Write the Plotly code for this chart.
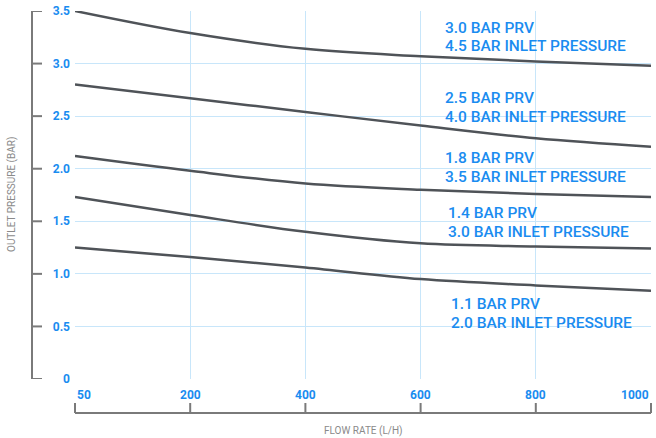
import plotly.graph_objects as go

flow_rates = ["50", "200", "400", "600", "800", "1000"]

prv_30 = [3.50, 3.29, 3.14, 3.07, 3.02, 2.98]
prv_25 = [2.80, 2.67, 2.54, 2.41, 2.29, 2.21]
prv_18 = [2.12, 1.98, 1.86, 1.80, 1.76, 1.73]
prv_14 = [1.73, 1.56, 1.40, 1.29, 1.26, 1.24]
prv_11 = [1.25, 1.16, 1.06, 0.95, 0.89, 0.84]

series = [prv_30, prv_25, prv_18, prv_14, prv_11]
prv_labels = ["3.0 BAR PRV", "2.5 BAR PRV", "1.8 BAR PRV", "1.4 BAR PRV", "1.1 BAR PRV"]
inlet_labels = ["4.5 BAR INLET PRESSURE", "4.0 BAR INLET PRESSURE", "3.5 BAR INLET PRESSURE",
                "3.0 BAR INLET PRESSURE", "2.0 BAR INLET PRESSURE"]
# label anchor positions (value axis for line 1 and line 2)
label_y1 = [3.34, 2.67, 2.10, 1.58, 0.71]
label_y2 = [3.17, 2.49, 1.92, 1.40, 0.53]
label_x = [443, 443, 443, 446, 449]

y_ticks = [0, 0.5, 1.0, 1.5, 2.0, 2.5, 3.0, 3.5]
y_ticktext = ["0", "0.5", "1.0", "1.5", "2.0", "2.5", "3.0", "3.5"]

BLUE = "#1a8cf0"
GRID = "#c8e6fa"
SPINE = "#7a7a7a"
LINE = "#4f5358"
PAPER_W = 651.0
PAPER_H = 407.0

X_DOM = [75 / PAPER_W, 1]
Y_DOM = [(418 - 379) / PAPER_H, 1]

fig = go.Figure()
for s, name in zip(series, prv_labels):
    fig.add_trace(go.Scatter(
        x=flow_rates, y=s, mode="lines", name=name,
        line=dict(color=LINE, width=2.5, shape="spline", smoothing=1),
        hoverinfo="x+y",
    ))

label_font = dict(family="Roboto", size=15.5, color=BLUE, weight=500)
for l1, l2, lx, y1, y2 in zip(prv_labels, inlet_labels, label_x, label_y1, label_y2):
    for txt, yy in ((l1, y1), (l2, y2)):
        fig.add_annotation(
            text=txt, xref="paper", yref="y", x=lx / PAPER_W, y=yy,
            xanchor="left", yanchor="middle", align="left", showarrow=False,
            font=label_font,
        )

# x tick labels (first left-aligned, last right-aligned as in the original)
anchors = ["left"] + ["center"] * (len(flow_rates) - 2) + ["right"]
for i, (fr, anc) in enumerate(zip(flow_rates, anchors)):
    fig.add_annotation(
        text=fr, xref="x", yref="paper", x=i, y=(418 - 394.5) / PAPER_H,
        xanchor=anc, yanchor="middle", showarrow=False,
        font=dict(family="Roboto", size=12, color=BLUE, weight=700),
    )

fig.add_annotation(
    text="OUTLET PRESSURE (BAR)", xref="paper", yref="paper",
    x=12 / PAPER_W, y=(418 - 195) / PAPER_H, textangle=-90, showarrow=False,
    xanchor="center", yanchor="middle",
    font=dict(family="Roboto", size=10, color="#8a8a8a"),
)
fig.add_annotation(
    text="FLOW RATE (L/H)", xref="paper", yref="paper",
    x=363 / PAPER_W, y=(418 - 431) / PAPER_H, showarrow=False,
    xanchor="center", yanchor="middle",
    font=dict(family="Roboto", size=10, color="#8a8a8a"),
)

# detached axis spines with inward ticks
spine_line = dict(color=SPINE, width=2)
x_spine_y = (418 - 413) / PAPER_H
x_tick_top = (418 - 403) / PAPER_H
n_cat = len(flow_rates)
fig.add_shape(type="line", xref="x domain", yref="paper", x0=0, x1=1,
              y0=x_spine_y, y1=x_spine_y, line=spine_line)
for i in range(n_cat):
    fx = i / (n_cat - 1)
    fig.add_shape(type="line", xref="x domain", yref="paper", x0=fx, x1=fx,
                  y0=x_spine_y, y1=x_tick_top, line=spine_line)

y_spine_x = 32 / PAPER_W
y_tick_end = 42 / PAPER_W
fig.add_shape(type="line", xref="paper", yref="y", x0=y_spine_x, x1=y_spine_x,
              y0=y_ticks[0], y1=y_ticks[-1], line=spine_line)
for v in y_ticks:
    fig.add_shape(type="line", xref="paper", yref="y", x0=y_spine_x, x1=y_tick_end,
                  y0=v, y1=v, line=spine_line)

fig.update_layout(
    width=656, height=438,
    margin=dict(l=0, r=5, t=11, b=20, autoexpand=False),
    paper_bgcolor="white", plot_bgcolor="white",
    showlegend=False,
    xaxis=dict(
        type="category", domain=X_DOM, range=[0, 5],
        showgrid=True, gridcolor=GRID, gridwidth=1,
        showline=False, zeroline=False, ticks="",
        showticklabels=False, automargin=False,
        anchor="y",
    ),
    yaxis=dict(
        domain=Y_DOM, range=[0, 3.5],
        tickmode="array", tickvals=y_ticks, ticktext=y_ticktext,
        showgrid=True, gridcolor=GRID, gridwidth=1,
        showline=False, zeroline=False, ticks="",
        tickfont=dict(family="Roboto", size=12, color=BLUE, weight=700),
        ticklabelstandoff=4, automargin=False,
        anchor="x",
    ),
)

fig.write_html(
    "out.html",
    config={"displayModeBar": False},
    post_script="document.body.style.margin='0';",
)
